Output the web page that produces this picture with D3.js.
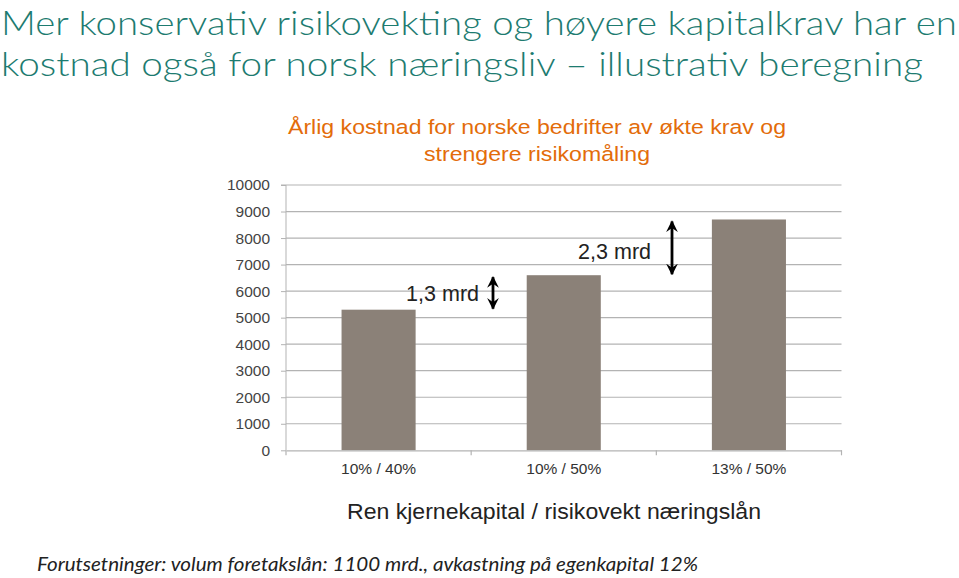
<!DOCTYPE html>
<html><head><meta charset="utf-8">
<script src="https://cdn.jsdelivr.net/npm/d3@7"></script>
<style>body{margin:0;background:#fff}svg{display:block}</style>
</head><body>
<svg id="c" width="959" height="578"></svg>
<script>
const categories = ["10% / 40%", "10% / 50%", "13% / 50%"];
const values = [5300, 6600, 8700];
const yTicks = [0,1000,2000,3000,4000,5000,6000,7000,8000,9000,10000];
const diffLabels = ["1,3 mrd", "2,3 mrd"];
const titleLines = ["Mer konservativ risikovekting og høyere kapitalkrav har en", "kostnad også for norsk næringsliv – illustrativ beregning"];
const chartTitle = ["Årlig kostnad for norske bedrifter av økte krav og", "strengere risikomåling"];
const xTitle = "Ren kjernekapital / risikovekt næringslån";
const footnote = "Forutsetninger: volum foretakslån: 1100 mrd., avkastning på egenkapital 12%";

(function(){
const svg = d3.select("#c");
const pL = 286, pR = 841.5, pT = 185, pB = 450.3;
const x = d3.scaleBand().domain(categories).range([pL, pR]).paddingInner(0.6).paddingOuter(0.3);
const y = d3.scaleLinear().domain([0, 10000]).range([pB, pT]);
const arial = "Liberation Sans, Arial, sans-serif";

// title
titleLines.forEach((t, i) => {
  svg.append("text").attr("x", 1).attr("y", 34.5 + i * 41)
    .attr("font-family", "Lato, sans-serif").attr("font-weight", 300)
    .attr("font-size", 34).attr("fill", "#1d7b70")
    .attr("textLength", i === 0 ? 956 : 922).attr("lengthAdjust", "spacingAndGlyphs")
    .text(t);
});

// chart title
chartTitle.forEach((t, i) => {
  svg.append("text").attr("x", 537).attr("y", 134 + i * 27).attr("text-anchor", "middle")
    .attr("font-family", arial).attr("font-size", 20.5)
    .attr("fill", "#e36c0a").attr("textLength", i === 0 ? 498 : 226).attr("lengthAdjust", "spacingAndGlyphs")
    .text(t);
});

// gridlines
svg.append("g").selectAll("line").data(yTicks.filter(d => d > 0)).join("line")
  .attr("x1", pL).attr("x2", pR).attr("y1", d => y(d)).attr("y2", d => y(d))
  .attr("stroke", "#b3b3b3").attr("stroke-width", 1.2);

// y axis
const ya = svg.append("g").attr("transform", `translate(${pL},0)`)
  .call(d3.axisLeft(y).tickValues(yTicks).tickSize(5).tickPadding(11).tickFormat(d3.format("d")));
ya.select(".domain").attr("stroke", "#b3b3b3").attr("d", `M-5,${pT}H0V${pB}`);
ya.selectAll(".tick line").attr("stroke", "#b3b3b3");
ya.selectAll("text").attr("font-family", arial).attr("font-size", 15.5).attr("fill", "#444");

// bars
svg.append("g").selectAll("rect").data(values).join("rect")
  .attr("x", (d, i) => x(categories[i])).attr("width", x.bandwidth())
  .attr("y", d => y(d)).attr("height", d => y(0) - y(d)).attr("fill", "#8b8178");

// x axis
const xa = svg.append("g").attr("transform", `translate(0,${pB})`)
  .call(d3.axisBottom(x).tickSize(0).tickPadding(13));
xa.select(".domain").attr("stroke", "#b3b3b3").attr("stroke-width", 1.2);
xa.selectAll("text").attr("font-family", arial).attr("font-size", 15.5).attr("fill", "#333");
const bounds = d3.range(categories.length + 1).map(i => pL + i * (pR - pL) / categories.length);
svg.append("g").selectAll("line").data(bounds).join("line")
  .attr("x1", d => d).attr("x2", d => d).attr("y1", pB).attr("y2", pB + 5)
  .attr("stroke", "#b3b3b3").attr("stroke-width", 1.2);

// difference arrows
const defs = svg.append("defs");
defs.append("marker").attr("id", "ah").attr("viewBox", "0 0 10 10").attr("refX", 9).attr("refY", 5)
  .attr("markerWidth", 4.2).attr("markerHeight", 4.2).attr("orient", "auto-start-reverse")
  .append("path").attr("d", "M0,0L10,5L0,10L3.5,5Z").attr("fill", "#000");
const arrowX = [493, 672];
const labelX = [479, 651];
const labelY = [301, 259];
[0, 1].forEach(i => {
  const yT = y(values[i + 1]), yBt = y(values[i]);
  svg.append("line").attr("x1", arrowX[i]).attr("x2", arrowX[i]).attr("y1", yT + 2).attr("y2", yBt - 1)
    .attr("stroke", "#000").attr("stroke-width", 2.8)
    .attr("marker-start", "url(#ah)").attr("marker-end", "url(#ah)");
  svg.append("text").attr("x", labelX[i]).attr("y", labelY[i]).attr("text-anchor", "end")
    .attr("font-family", arial).attr("font-size", 21.5).attr("fill", "#222")
    .text(diffLabels[i]);
});

// x title
svg.append("text").attr("x", 554).attr("y", 519).attr("text-anchor", "middle")
  .attr("font-family", arial).attr("font-size", 22).attr("fill", "#222")
  .attr("textLength", 414).attr("lengthAdjust", "spacingAndGlyphs")
  .text(xTitle);

// footnote
svg.append("text").attr("x", 37).attr("y", 571)
  .attr("font-family", "Lato, sans-serif").attr("font-style", "italic").attr("font-size", 19)
  .attr("fill", "#222").attr("textLength", 661).attr("lengthAdjust", "spacingAndGlyphs")
  .text(footnote);
})();
</script>
</body></html>
